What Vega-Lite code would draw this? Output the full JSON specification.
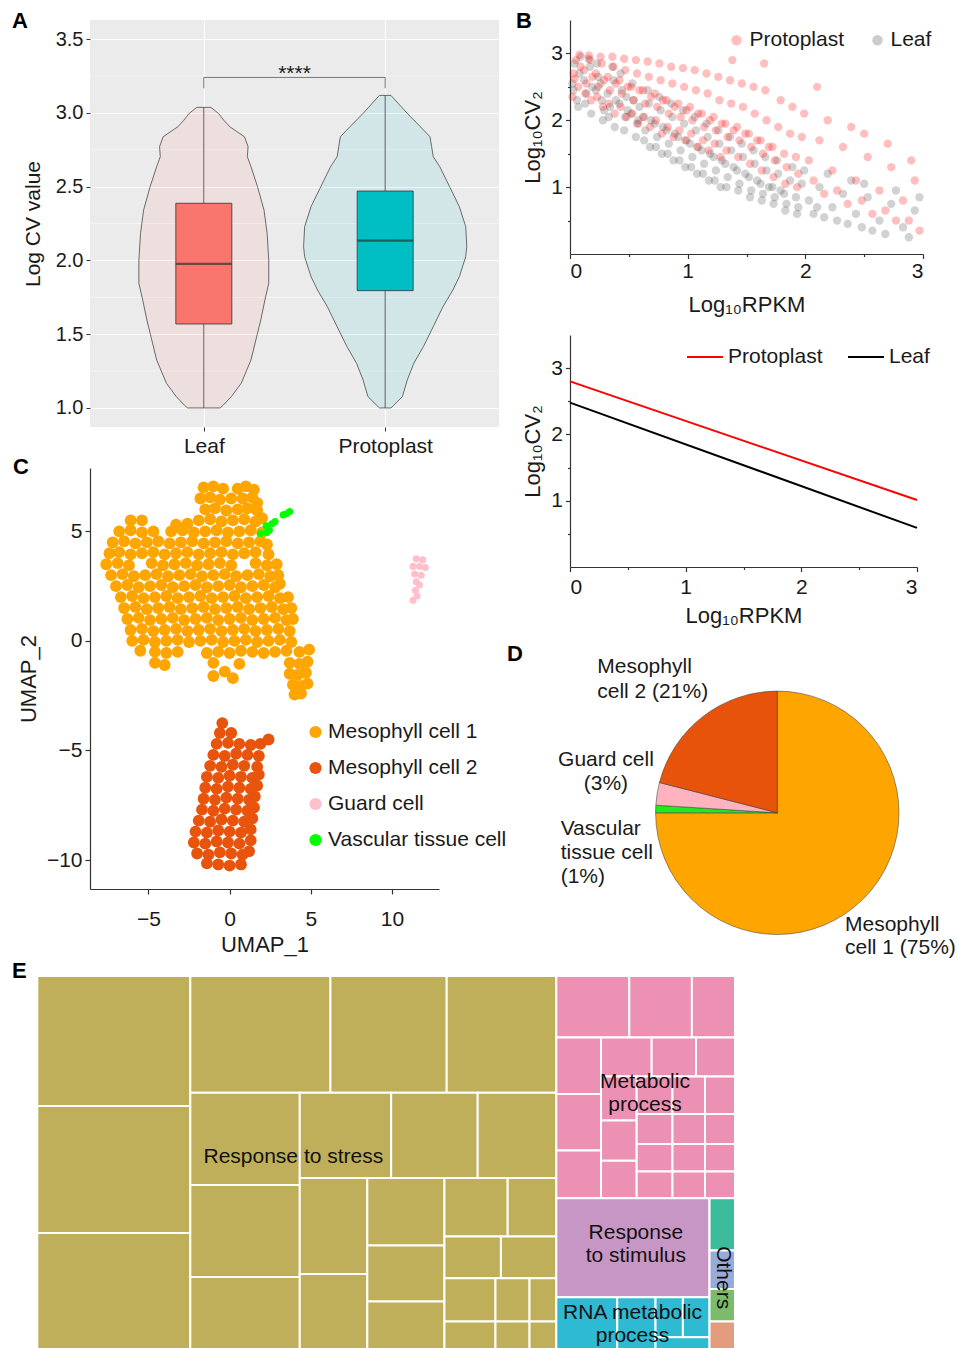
{
"$schema":"https://vega.github.io/schema/vega-lite/v6.json",
"background":"white",
"padding":{"left":12,"top":10,"right":0,"bottom":0},
"config":{
 "font":"Liberation Sans",
 "view":{"stroke":null},
 "title":{"fontSize":22,"fontWeight":"bold","anchor":"start","frame":"group","baseline":"alphabetic","color":"#000000"},
 "axis":{"labelFontSize":21,"titleFontSize":21,"titleFontWeight":"normal","labelColor":"#1a1a1a","titleColor":"#1a1a1a","grid":false,"domainColor":"#333333","tickColor":"#333333","labelOverlap":false},
 "legend":{"labelFontSize":21,"labelColor":"#1a1a1a","padding":0,"labelLimit":300},
 "text":{"font":"Liberation Sans"}
},
"datasets":{
 "violinA":[
  {"grp":"Leaf","y":3.037,"lo":0.961,"hi":1.039},{"grp":"Leaf","y":2.996,"lo":0.919,"hi":1.081},{"grp":"Leaf","y":2.95,"lo":0.89,"hi":1.11},{"grp":"Leaf","y":2.906,"lo":0.857,"hi":1.143},{"grp":"Leaf","y":2.838,"lo":0.776,"hi":1.224},{"grp":"Leaf","y":2.771,"lo":0.756,"hi":1.244},{"grp":"Leaf","y":2.703,"lo":0.76,"hi":1.24},{"grp":"Leaf","y":2.635,"lo":0.74,"hi":1.26},{"grp":"Leaf","y":2.5,"lo":0.704,"hi":1.296},{"grp":"Leaf","y":2.341,"lo":0.668,"hi":1.332},{"grp":"Leaf","y":2.183,"lo":0.651,"hi":1.349},{"grp":"Leaf","y":2.003,"lo":0.642,"hi":1.358},{"grp":"Leaf","y":1.845,"lo":0.642,"hi":1.358},{"grp":"Leaf","y":1.732,"lo":0.663,"hi":1.337},{"grp":"Leaf","y":1.596,"lo":0.686,"hi":1.314},{"grp":"Leaf","y":1.506,"lo":0.704,"hi":1.296},{"grp":"Leaf","y":1.325,"lo":0.74,"hi":1.26},{"grp":"Leaf","y":1.167,"lo":0.794,"hi":1.206},{"grp":"Leaf","y":1.077,"lo":0.848,"hi":1.152},{"grp":"Leaf","y":1.02,"lo":0.892,"hi":1.108},{"grp":"Leaf","y":1.0,"lo":0.91,"hi":1.09},
  {"grp":"Protoplast","y":3.118,"lo":1.968,"hi":2.032},{"grp":"Protoplast","y":2.996,"lo":1.878,"hi":2.122},{"grp":"Protoplast","y":2.906,"lo":1.806,"hi":2.194},{"grp":"Protoplast","y":2.838,"lo":1.753,"hi":2.247},{"grp":"Protoplast","y":2.771,"lo":1.744,"hi":2.256},{"grp":"Protoplast","y":2.703,"lo":1.735,"hi":2.265},{"grp":"Protoplast","y":2.635,"lo":1.699,"hi":2.301},{"grp":"Protoplast","y":2.5,"lo":1.645,"hi":2.355},{"grp":"Protoplast","y":2.364,"lo":1.591,"hi":2.409},{"grp":"Protoplast","y":2.229,"lo":1.556,"hi":2.444},{"grp":"Protoplast","y":2.093,"lo":1.55,"hi":2.45},{"grp":"Protoplast","y":2.025,"lo":1.556,"hi":2.444},{"grp":"Protoplast","y":1.89,"lo":1.591,"hi":2.409},{"grp":"Protoplast","y":1.799,"lo":1.627,"hi":2.373},{"grp":"Protoplast","y":1.687,"lo":1.681,"hi":2.319},{"grp":"Protoplast","y":1.551,"lo":1.735,"hi":2.265},{"grp":"Protoplast","y":1.416,"lo":1.789,"hi":2.211},{"grp":"Protoplast","y":1.303,"lo":1.842,"hi":2.158},{"grp":"Protoplast","y":1.19,"lo":1.878,"hi":2.122},{"grp":"Protoplast","y":1.077,"lo":1.905,"hi":2.095},{"grp":"Protoplast","y":1.0,"lo":1.968,"hi":2.032}
 ],
 "boxA":[
  {"grp":"Leaf","pos":1,"lo":1.0,"hi":3.037,"q1":1.569,"q3":2.387,"med":1.976},
  {"grp":"Protoplast","pos":2,"lo":1.0,"hi":3.118,"q1":1.795,"q3":2.47,"med":2.134}
 ],
 "bLeaf":[
  {"x":0.02,"y":2.55},{"x":0.04,"y":2.85},{"x":0.06,"y":2.3},{"x":0.08,"y":2.7},{"x":0.03,"y":2.45},{"x":0.09,"y":2.95},{"x":0.07,"y":2.2},
  {"x":0.12,"y":2.6},{"x":0.14,"y":2.4},{"x":0.17,"y":2.8},{"x":0.13,"y":2.25},{"x":0.19,"y":2.5},{"x":0.16,"y":2.92},{"x":0.18,"y":2.1},
  {"x":0.22,"y":2.45},{"x":0.24,"y":2.65},{"x":0.27,"y":2.3},{"x":0.23,"y":2.85},{"x":0.29,"y":2.15},{"x":0.26,"y":2.55},{"x":0.28,"y":2.0},
  {"x":0.32,"y":2.4},{"x":0.34,"y":2.2},{"x":0.37,"y":2.6},{"x":0.33,"y":2.05},{"x":0.39,"y":2.3},{"x":0.36,"y":2.8},{"x":0.38,"y":1.9},
  {"x":0.42,"y":2.25},{"x":0.44,"y":2.45},{"x":0.47,"y":2.05},{"x":0.43,"y":2.7},{"x":0.49,"y":2.15},{"x":0.46,"y":1.85},{"x":0.48,"y":2.35},
  {"x":0.52,"y":2.1},{"x":0.54,"y":2.3},{"x":0.57,"y":1.95},{"x":0.53,"y":2.55},{"x":0.59,"y":2.2},{"x":0.56,"y":1.75},{"x":0.58,"y":2.0},
  {"x":0.62,"y":2.05},{"x":0.64,"y":1.85},{"x":0.67,"y":2.25},{"x":0.63,"y":1.7},{"x":0.69,"y":2.0},{"x":0.66,"y":2.45},{"x":0.68,"y":1.6},
  {"x":0.72,"y":1.95},{"x":0.74,"y":1.75},{"x":0.77,"y":2.15},{"x":0.73,"y":1.6},{"x":0.79,"y":1.9},{"x":0.76,"y":2.35},{"x":0.78,"y":1.5},
  {"x":0.82,"y":1.85},{"x":0.84,"y":1.65},{"x":0.87,"y":2.05},{"x":0.83,"y":1.5},{"x":0.89,"y":1.8},{"x":0.86,"y":2.25},{"x":0.88,"y":1.4},
  {"x":0.92,"y":1.75},{"x":0.94,"y":1.55},{"x":0.97,"y":1.95},{"x":0.93,"y":1.4},{"x":0.99,"y":1.7},{"x":0.96,"y":2.15},{"x":0.98,"y":1.3},
  {"x":1.02,"y":1.65},{"x":1.04,"y":1.45},{"x":1.07,"y":1.85},{"x":1.03,"y":1.3},{"x":1.09,"y":1.6},{"x":1.06,"y":2.05},{"x":1.08,"y":1.2},
  {"x":1.12,"y":1.55},{"x":1.14,"y":1.35},{"x":1.17,"y":1.75},{"x":1.13,"y":1.2},{"x":1.19,"y":1.5},{"x":1.16,"y":1.95},{"x":1.18,"y":1.1},
  {"x":1.22,"y":1.45},{"x":1.24,"y":1.25},{"x":1.27,"y":1.65},{"x":1.23,"y":1.1},{"x":1.29,"y":1.4},{"x":1.26,"y":1.85},{"x":1.28,"y":1.0},
  {"x":1.32,"y":1.35},{"x":1.34,"y":1.15},{"x":1.37,"y":1.55},{"x":1.33,"y":1.0},{"x":1.39,"y":1.3},{"x":1.36,"y":1.75},
  {"x":1.42,"y":1.25},{"x":1.44,"y":1.05},{"x":1.47,"y":1.45},{"x":1.43,"y":0.95},{"x":1.49,"y":1.2},{"x":1.46,"y":1.65},
  {"x":1.52,"y":1.15},{"x":1.54,"y":0.95},{"x":1.57,"y":1.35},{"x":1.53,"y":0.85},{"x":1.59,"y":1.1},{"x":1.56,"y":1.55},
  {"x":1.62,"y":1.05},{"x":1.64,"y":0.9},{"x":1.67,"y":1.25},{"x":1.63,"y":0.8},{"x":1.69,"y":1.0},{"x":1.66,"y":1.45},
  {"x":1.72,"y":1.0},{"x":1.74,"y":0.85},{"x":1.77,"y":1.2},{"x":1.73,"y":0.75},{"x":1.79,"y":0.95},{"x":1.76,"y":1.4},
  {"x":1.82,"y":0.9},{"x":1.84,"y":0.75},{"x":1.87,"y":1.1},{"x":1.83,"y":0.65},{"x":1.89,"y":1.3},
  {"x":1.92,"y":0.85},{"x":1.94,"y":0.7},{"x":1.97,"y":1.05},{"x":1.93,"y":0.6},{"x":1.99,"y":1.25},
  {"x":2.03,"y":0.8},{"x":2.07,"y":0.6},{"x":2.12,"y":1.0},{"x":2.16,"y":0.55},{"x":2.19,"y":1.2},{"x":2.1,"y":0.7},
  {"x":2.23,"y":0.7},{"x":2.27,"y":0.5},{"x":2.32,"y":0.9},{"x":2.36,"y":0.45},{"x":2.39,"y":1.1},
  {"x":2.43,"y":0.6},{"x":2.48,"y":0.4},{"x":2.53,"y":0.85},{"x":2.57,"y":0.35},{"x":2.5,"y":1.05},
  {"x":2.63,"y":0.5},{"x":2.68,"y":0.3},{"x":2.73,"y":0.75},{"x":2.77,"y":0.95},
  {"x":2.83,"y":0.4},{"x":2.88,"y":0.25},{"x":2.93,"y":0.65},{"x":2.97,"y":0.85}
 ],
 "bProt":[
  {"x":0.03,"y":2.7},{"x":0.05,"y":2.9},{"x":0.07,"y":2.5},{"x":0.09,"y":2.8},{"x":0.02,"y":2.35},{"x":0.08,"y":2.98},{"x":0.04,"y":2.62},
  {"x":0.12,"y":2.75},{"x":0.14,"y":2.55},{"x":0.17,"y":2.9},{"x":0.13,"y":2.4},{"x":0.19,"y":2.65},{"x":0.16,"y":2.97},{"x":0.18,"y":2.3},
  {"x":0.22,"y":2.7},{"x":0.24,"y":2.5},{"x":0.27,"y":2.85},{"x":0.23,"y":2.35},{"x":0.29,"y":2.6},{"x":0.26,"y":2.95},{"x":0.28,"y":2.2},
  {"x":0.32,"y":2.65},{"x":0.34,"y":2.45},{"x":0.37,"y":2.8},{"x":0.33,"y":2.25},{"x":0.39,"y":2.55},{"x":0.36,"y":2.95},{"x":0.38,"y":2.1},
  {"x":0.42,"y":2.6},{"x":0.44,"y":2.4},{"x":0.47,"y":2.75},{"x":0.43,"y":2.2},{"x":0.49,"y":2.5},{"x":0.46,"y":2.92},{"x":0.48,"y":2.05},
  {"x":0.52,"y":2.5},{"x":0.54,"y":2.3},{"x":0.57,"y":2.7},{"x":0.53,"y":2.1},{"x":0.59,"y":2.45},{"x":0.56,"y":2.9},{"x":0.58,"y":1.95},
  {"x":0.62,"y":2.45},{"x":0.64,"y":2.25},{"x":0.67,"y":2.65},{"x":0.63,"y":2.05},{"x":0.69,"y":2.35},{"x":0.66,"y":2.88},{"x":0.68,"y":1.9},
  {"x":0.72,"y":2.4},{"x":0.74,"y":2.2},{"x":0.77,"y":2.6},{"x":0.73,"y":2.0},{"x":0.79,"y":2.3},{"x":0.76,"y":2.85},{"x":0.78,"y":1.8},
  {"x":0.82,"y":2.3},{"x":0.84,"y":2.1},{"x":0.87,"y":2.55},{"x":0.83,"y":1.9},{"x":0.89,"y":2.2},{"x":0.86,"y":2.8},{"x":0.88,"y":1.75},
  {"x":0.92,"y":2.25},{"x":0.94,"y":2.05},{"x":0.97,"y":2.5},{"x":0.93,"y":1.85},{"x":0.99,"y":2.15},{"x":0.96,"y":2.78},{"x":0.98,"y":1.7},
  {"x":1.02,"y":2.2},{"x":1.04,"y":2.0},{"x":1.07,"y":2.45},{"x":1.03,"y":1.8},{"x":1.09,"y":2.1},{"x":1.06,"y":2.75},{"x":1.08,"y":1.6},
  {"x":1.12,"y":2.1},{"x":1.14,"y":1.9},{"x":1.17,"y":2.4},{"x":1.13,"y":1.7},{"x":1.19,"y":2.0},{"x":1.16,"y":2.7},{"x":1.18,"y":1.55},
  {"x":1.22,"y":2.05},{"x":1.24,"y":1.85},{"x":1.27,"y":2.3},{"x":1.23,"y":1.65},{"x":1.29,"y":1.95},{"x":1.26,"y":2.65},{"x":1.28,"y":1.45},
  {"x":1.32,"y":1.95},{"x":1.34,"y":1.75},{"x":1.37,"y":2.25},{"x":1.33,"y":1.55},{"x":1.39,"y":1.85},{"x":1.36,"y":2.6},{"x":1.38,"y":2.9},
  {"x":1.42,"y":1.9},{"x":1.44,"y":1.7},{"x":1.47,"y":2.2},{"x":1.43,"y":1.45},{"x":1.49,"y":1.8},{"x":1.46,"y":2.55},
  {"x":1.52,"y":1.8},{"x":1.54,"y":1.6},{"x":1.57,"y":2.1},{"x":1.53,"y":1.35},{"x":1.59,"y":1.7},{"x":1.56,"y":2.5},
  {"x":1.62,"y":1.7},{"x":1.64,"y":1.5},{"x":1.67,"y":2.0},{"x":1.63,"y":1.25},{"x":1.69,"y":1.6},{"x":1.66,"y":2.45},{"x":1.65,"y":2.85},
  {"x":1.72,"y":1.6},{"x":1.74,"y":1.4},{"x":1.77,"y":1.9},{"x":1.73,"y":1.15},{"x":1.79,"y":2.3},
  {"x":1.82,"y":1.5},{"x":1.84,"y":1.3},{"x":1.87,"y":1.8},{"x":1.83,"y":1.05},{"x":1.89,"y":2.2},
  {"x":1.92,"y":1.45},{"x":1.94,"y":1.2},{"x":1.97,"y":1.75},{"x":1.93,"y":1.0},{"x":1.99,"y":2.1},
  {"x":2.03,"y":1.4},{"x":2.07,"y":1.1},{"x":2.12,"y":1.7},{"x":2.16,"y":0.9},{"x":2.19,"y":2.0},{"x":2.1,"y":2.5},
  {"x":2.23,"y":1.25},{"x":2.27,"y":0.95},{"x":2.32,"y":1.6},{"x":2.36,"y":0.75},{"x":2.39,"y":1.9},
  {"x":2.43,"y":1.1},{"x":2.48,"y":0.8},{"x":2.53,"y":1.45},{"x":2.57,"y":0.6},{"x":2.5,"y":1.8},
  {"x":2.63,"y":0.95},{"x":2.68,"y":0.65},{"x":2.73,"y":1.3},{"x":2.77,"y":0.5},{"x":2.7,"y":1.65},
  {"x":2.83,"y":0.8},{"x":2.88,"y":0.5},{"x":2.93,"y":1.1},{"x":2.97,"y":0.35},{"x":2.9,"y":1.4}
 ],
 "bLines":[
  {"s":"Protoplast","x":0,"y":2.8},{"s":"Protoplast","x":3,"y":1.01},
  {"s":"Leaf","x":0,"y":2.48},{"s":"Leaf","x":3,"y":0.59}
 ],
 "m1":[
  {"x":-1.6,"y":7.0},{"x":-1.0,"y":7.05},{"x":-0.4,"y":6.95},{"x":0.5,"y":6.95},{"x":1.0,"y":7.05},{"x":1.5,"y":6.9},
  {"x":-1.8,"y":6.5},{"x":-1.2,"y":6.55},{"x":-0.6,"y":6.45},{"x":0.1,"y":6.5},{"x":0.8,"y":6.5},{"x":1.4,"y":6.55},{"x":1.7,"y":6.3},
  {"x":-1.5,"y":6.0},{"x":-0.9,"y":6.05},{"x":-0.2,"y":5.95},{"x":0.5,"y":6.0},{"x":1.1,"y":6.05},{"x":1.7,"y":5.95},
  {"x":-6.1,"y":5.5},{"x":-5.4,"y":5.5},{"x":-3.3,"y":5.3},{"x":-2.6,"y":5.35},{"x":-1.9,"y":5.5},{"x":-1.2,"y":5.55},{"x":-0.5,"y":5.45},{"x":0.2,"y":5.5},{"x":0.9,"y":5.55},{"x":1.6,"y":5.45},{"x":2.0,"y":5.6},
  {"x":-6.8,"y":5.0},{"x":-6.1,"y":5.05},{"x":-5.4,"y":4.95},{"x":-4.7,"y":5.0},{"x":-3.6,"y":5.0},{"x":-2.9,"y":5.05},{"x":-2.2,"y":4.95},{"x":-1.5,"y":5.0},{"x":-0.8,"y":5.05},{"x":-0.1,"y":4.95},{"x":0.6,"y":5.0},{"x":1.3,"y":5.05},{"x":2.0,"y":4.95},
  {"x":-7.2,"y":4.5},{"x":-6.5,"y":4.55},{"x":-5.8,"y":4.45},{"x":-5.1,"y":4.5},{"x":-4.4,"y":4.55},{"x":-3.7,"y":4.45},{"x":-3.0,"y":4.5},{"x":-2.3,"y":4.55},{"x":-1.6,"y":4.45},{"x":-0.9,"y":4.5},{"x":-0.2,"y":4.55},{"x":0.5,"y":4.45},{"x":1.2,"y":4.5},{"x":1.9,"y":4.55},{"x":2.3,"y":4.4},
  {"x":-7.4,"y":4.0},{"x":-6.8,"y":4.05},{"x":-6.1,"y":3.95},{"x":-5.4,"y":4.0},{"x":-4.7,"y":4.05},{"x":-4.0,"y":3.95},{"x":-3.3,"y":4.0},{"x":-2.6,"y":4.05},{"x":-1.9,"y":3.95},{"x":-1.2,"y":4.0},{"x":-0.5,"y":4.05},{"x":0.2,"y":3.95},{"x":0.9,"y":4.0},{"x":1.6,"y":4.05},{"x":2.4,"y":3.95},
  {"x":-7.6,"y":3.5},{"x":-6.9,"y":3.55},{"x":-6.2,"y":3.45},{"x":-4.8,"y":3.55},{"x":-4.1,"y":3.45},{"x":-3.4,"y":3.5},{"x":-2.7,"y":3.55},{"x":-2.0,"y":3.45},{"x":-1.3,"y":3.5},{"x":-0.6,"y":3.55},{"x":0.1,"y":3.45},{"x":1.6,"y":3.55},{"x":2.3,"y":3.45},{"x":2.9,"y":3.5},
  {"x":-7.3,"y":3.0},{"x":-6.6,"y":3.05},{"x":-5.9,"y":2.95},{"x":-5.2,"y":3.0},{"x":-4.5,"y":3.05},{"x":-3.8,"y":2.95},{"x":-3.1,"y":3.0},{"x":-2.4,"y":3.05},{"x":-1.7,"y":2.95},{"x":-1.0,"y":3.0},{"x":-0.3,"y":3.05},{"x":0.4,"y":2.95},{"x":1.1,"y":3.0},{"x":1.8,"y":3.05},{"x":2.5,"y":2.95},{"x":3.0,"y":3.0},
  {"x":-7.0,"y":2.5},{"x":-6.3,"y":2.55},{"x":-5.6,"y":2.45},{"x":-4.9,"y":2.5},{"x":-4.2,"y":2.55},{"x":-3.5,"y":2.45},{"x":-2.8,"y":2.5},{"x":-2.1,"y":2.55},{"x":-1.4,"y":2.45},{"x":-0.7,"y":2.5},{"x":0.0,"y":2.55},{"x":0.7,"y":2.45},{"x":1.4,"y":2.5},{"x":2.1,"y":2.55},{"x":2.8,"y":2.45},{"x":3.1,"y":2.6},
  {"x":-6.7,"y":2.0},{"x":-6.0,"y":2.05},{"x":-5.3,"y":1.95},{"x":-4.6,"y":2.0},{"x":-3.9,"y":2.05},{"x":-3.2,"y":1.95},{"x":-2.5,"y":2.0},{"x":-1.8,"y":2.05},{"x":-1.1,"y":1.95},{"x":-0.4,"y":2.0},{"x":0.3,"y":2.05},{"x":1.0,"y":1.95},{"x":1.7,"y":2.0},{"x":2.4,"y":2.05},{"x":3.1,"y":1.95},{"x":3.6,"y":2.0},
  {"x":-6.5,"y":1.5},{"x":-5.8,"y":1.55},{"x":-5.1,"y":1.45},{"x":-4.4,"y":1.5},{"x":-3.7,"y":1.55},{"x":-3.0,"y":1.45},{"x":-2.3,"y":1.5},{"x":-1.6,"y":1.55},{"x":-0.9,"y":1.45},{"x":-0.2,"y":1.5},{"x":0.5,"y":1.55},{"x":1.2,"y":1.45},{"x":1.9,"y":1.5},{"x":2.6,"y":1.55},{"x":3.3,"y":1.45},{"x":3.8,"y":1.5},
  {"x":-6.3,"y":1.0},{"x":-5.6,"y":1.05},{"x":-4.9,"y":0.95},{"x":-4.2,"y":1.0},{"x":-3.5,"y":1.05},{"x":-2.8,"y":0.95},{"x":-2.1,"y":1.0},{"x":-1.4,"y":1.05},{"x":-0.7,"y":0.95},{"x":0.0,"y":1.0},{"x":0.7,"y":1.05},{"x":1.4,"y":0.95},{"x":2.1,"y":1.0},{"x":2.8,"y":1.05},{"x":3.5,"y":0.95},{"x":3.9,"y":1.0},
  {"x":-6.1,"y":0.5},{"x":-5.4,"y":0.55},{"x":-4.7,"y":0.45},{"x":-4.0,"y":0.5},{"x":-3.3,"y":0.55},{"x":-2.6,"y":0.45},{"x":-1.9,"y":0.5},{"x":-1.2,"y":0.55},{"x":-0.5,"y":0.45},{"x":0.2,"y":0.5},{"x":0.9,"y":0.55},{"x":1.6,"y":0.45},{"x":2.3,"y":0.5},{"x":3.0,"y":0.55},{"x":3.7,"y":0.45},
  {"x":-6.0,"y":0.0},{"x":-5.3,"y":0.05},{"x":-4.6,"y":-0.05},{"x":-3.9,"y":0.0},{"x":-3.2,"y":0.05},{"x":-2.5,"y":-0.05},{"x":-1.8,"y":0.0},{"x":-1.1,"y":0.05},{"x":-0.4,"y":-0.05},{"x":0.3,"y":0.0},{"x":1.0,"y":0.05},{"x":1.7,"y":-0.05},{"x":2.4,"y":0.0},{"x":3.1,"y":0.05},{"x":3.8,"y":-0.05},
  {"x":-5.5,"y":-0.45},{"x":-4.6,"y":-0.5},{"x":-3.9,"y":-0.55},{"x":-3.2,"y":-0.5},{"x":-1.4,"y":-0.55},{"x":-0.7,"y":-0.5},{"x":0.0,"y":-0.55},{"x":0.7,"y":-0.45},{"x":1.4,"y":-0.5},{"x":2.1,"y":-0.55},{"x":2.8,"y":-0.5},{"x":3.5,"y":-0.45},{"x":4.3,"y":-0.5},{"x":4.9,"y":-0.4},
  {"x":-4.6,"y":-1.0},{"x":-4.0,"y":-1.1},{"x":-1.0,"y":-1.0},{"x":0.6,"y":-1.05},{"x":3.7,"y":-1.0},{"x":4.3,"y":-1.05},{"x":4.8,"y":-0.95},
  {"x":-1.0,"y":-1.6},{"x":-0.3,"y":-1.4},{"x":0.2,"y":-1.7},{"x":3.7,"y":-1.5},{"x":4.2,"y":-1.55},{"x":4.7,"y":-1.45},
  {"x":3.9,"y":-2.0},{"x":4.4,"y":-2.05},{"x":4.8,"y":-1.95},{"x":4.0,"y":-2.45},{"x":4.4,"y":-2.4}
 ],
 "m2":[
  {"x":-0.45,"y":-3.75},{"x":-0.6,"y":-4.2},{"x":0.1,"y":-4.2},
  {"x":-0.8,"y":-4.7},{"x":-0.1,"y":-4.65},{"x":0.6,"y":-4.7},{"x":1.3,"y":-4.75},{"x":1.9,"y":-4.7},{"x":2.4,"y":-4.5},
  {"x":-1.0,"y":-5.2},{"x":-0.3,"y":-5.25},{"x":0.4,"y":-5.15},{"x":1.1,"y":-5.2},{"x":1.8,"y":-5.25},
  {"x":-1.2,"y":-5.7},{"x":-0.5,"y":-5.75},{"x":0.2,"y":-5.65},{"x":0.9,"y":-5.7},{"x":1.7,"y":-5.75},
  {"x":-1.4,"y":-6.2},{"x":-0.7,"y":-6.25},{"x":0.0,"y":-6.15},{"x":0.7,"y":-6.2},{"x":1.4,"y":-6.25},{"x":1.8,"y":-6.1},
  {"x":-1.5,"y":-6.7},{"x":-0.8,"y":-6.75},{"x":-0.1,"y":-6.65},{"x":0.6,"y":-6.7},{"x":1.3,"y":-6.75},{"x":1.7,"y":-6.6},
  {"x":-1.6,"y":-7.2},{"x":-0.9,"y":-7.25},{"x":-0.2,"y":-7.15},{"x":0.5,"y":-7.2},{"x":1.2,"y":-7.25},{"x":1.55,"y":-7.1},
  {"x":-1.7,"y":-7.7},{"x":-1.0,"y":-7.75},{"x":-0.3,"y":-7.65},{"x":0.4,"y":-7.7},{"x":1.1,"y":-7.75},{"x":1.5,"y":-7.6},
  {"x":-1.9,"y":-8.2},{"x":-1.2,"y":-8.25},{"x":-0.5,"y":-8.15},{"x":0.2,"y":-8.2},{"x":0.9,"y":-8.25},{"x":1.4,"y":-8.1},
  {"x":-2.1,"y":-8.7},{"x":-1.4,"y":-8.75},{"x":-0.7,"y":-8.65},{"x":0.0,"y":-8.7},{"x":0.7,"y":-8.75},{"x":1.3,"y":-8.6},
  {"x":-2.2,"y":-9.2},{"x":-1.5,"y":-9.25},{"x":-0.8,"y":-9.15},{"x":-0.1,"y":-9.2},{"x":0.6,"y":-9.25},{"x":1.3,"y":-9.1},
  {"x":-2.0,"y":-9.7},{"x":-1.3,"y":-9.75},{"x":-0.6,"y":-9.65},{"x":0.1,"y":-9.7},{"x":0.8,"y":-9.75},{"x":1.2,"y":-9.6},
  {"x":-1.4,"y":-10.15},{"x":-0.7,"y":-10.2},{"x":0.0,"y":-10.25},{"x":0.7,"y":-10.2}
 ],
 "gc":[
  {"x":11.5,"y":3.75},{"x":11.9,"y":3.7},{"x":11.3,"y":3.4},{"x":11.7,"y":3.4},{"x":12.05,"y":3.35},{"x":11.4,"y":3.05},{"x":11.8,"y":3.0},{"x":11.5,"y":2.7},{"x":11.7,"y":2.55},{"x":11.45,"y":2.3},{"x":11.55,"y":2.05},{"x":11.3,"y":1.85}
 ],
 "vt":[
  {"x":1.9,"y":4.9},{"x":2.3,"y":4.95},{"x":2.25,"y":5.25},{"x":2.6,"y":5.35},{"x":2.8,"y":5.45},{"x":2.45,"y":5.05},{"x":3.3,"y":5.75},{"x":3.5,"y":5.8},{"x":3.7,"y":5.9}
 ],
 "pie":[
  {"cell":"Mesophyll cell 1","pct":75,"ord":1,"lab":"Mesophyll\ncell 1 (75%)"},
  {"cell":"Vascular tissue cell","pct":1,"ord":2,"lab":"Vascular\ntissue cell\n(1%)"},
  {"cell":"Guard cell","pct":3,"ord":3,"lab":"Guard cell\n(3%)"},
  {"cell":"Mesophyll cell 2","pct":21,"ord":4,"lab":"Mesophyll\ncell 2 (21%)"}
 ],
 "tiles":[
  {"c":"st","x":0,"x2":21.93,"y":0,"y2":34.83},{"c":"st","x":0,"x2":21.93,"y":34.83,"y2":68.9},{"c":"st","x":0,"x2":21.93,"y":68.9,"y2":100},
  {"c":"st","x":21.93,"x2":42.02,"y":0,"y2":31.29},{"c":"st","x":42.02,"x2":58.68,"y":0,"y2":31.29},{"c":"st","x":58.68,"x2":74.39,"y":0,"y2":31.29},
  {"c":"st","x":21.93,"x2":37.62,"y":31.29,"y2":56.01},{"c":"st","x":21.93,"x2":37.62,"y":56.01,"y2":80.7},{"c":"st","x":21.93,"x2":37.62,"y":80.7,"y2":100},
  {"c":"st","x":37.62,"x2":50.72,"y":31.29,"y2":54.16},{"c":"st","x":50.72,"x2":63.12,"y":31.29,"y2":54.16},{"c":"st","x":63.12,"x2":74.39,"y":31.29,"y2":54.16},
  {"c":"st","x":37.62,"x2":47.3,"y":54.16,"y2":79.87},{"c":"st","x":37.62,"x2":47.3,"y":79.87,"y2":100},
  {"c":"st","x":47.3,"x2":58.36,"y":54.16,"y2":72.23},{"c":"st","x":47.3,"x2":58.36,"y":72.23,"y2":87.24},{"c":"st","x":47.3,"x2":58.36,"y":87.24,"y2":100},
  {"c":"st","x":58.36,"x2":67.42,"y":54.16,"y2":69.84},{"c":"st","x":67.42,"x2":74.39,"y":54.16,"y2":69.84},
  {"c":"st","x":58.36,"x2":66.45,"y":69.84,"y2":81.02},{"c":"st","x":66.45,"x2":74.39,"y":69.84,"y2":81.02},
  {"c":"st","x":58.36,"x2":65.67,"y":81.02,"y2":92.63},{"c":"st","x":65.67,"x2":70.55,"y":81.02,"y2":92.63},{"c":"st","x":70.55,"x2":74.39,"y":81.02,"y2":92.63},
  {"c":"st","x":58.36,"x2":65.67,"y":92.63,"y2":100},{"c":"st","x":65.67,"x2":70.55,"y":92.63,"y2":100},{"c":"st","x":70.55,"x2":74.39,"y":92.63,"y2":100},
  {"c":"me","x":74.39,"x2":84.85,"y":0,"y2":16.49},{"c":"me","x":84.85,"x2":93.82,"y":0,"y2":16.49},{"c":"me","x":93.82,"x2":100,"y":0,"y2":16.49},
  {"c":"me","x":74.39,"x2":80.8,"y":16.49,"y2":31.61},{"c":"me","x":74.39,"x2":80.8,"y":31.61,"y2":46.78},{"c":"me","x":74.39,"x2":80.8,"y":46.78,"y2":59.57},
  {"c":"me","x":80.8,"x2":88.06,"y":16.49,"y2":26.94},{"c":"me","x":88.06,"x2":94.41,"y":16.49,"y2":26.94},{"c":"me","x":94.41,"x2":100,"y":16.49,"y2":26.94},
  {"c":"me","x":80.8,"x2":85.91,"y":26.94,"y2":38.74},{"c":"me","x":80.8,"x2":85.91,"y":38.74,"y2":49.52},{"c":"me","x":80.8,"x2":85.91,"y":49.52,"y2":59.57},
  {"c":"me","x":85.91,"x2":91.04,"y":26.94,"y2":36.97},{"c":"me","x":91.04,"x2":95.7,"y":26.94,"y2":36.97},{"c":"me","x":95.7,"x2":100,"y":26.94,"y2":36.97},
  {"c":"me","x":85.91,"x2":91.04,"y":36.97,"y2":45.01},{"c":"me","x":91.04,"x2":95.7,"y":36.97,"y2":45.01},{"c":"me","x":95.7,"x2":100,"y":36.97,"y2":45.01},
  {"c":"me","x":85.91,"x2":91.04,"y":45.01,"y2":52.41},{"c":"me","x":91.04,"x2":95.7,"y":45.01,"y2":52.41},{"c":"me","x":95.7,"x2":100,"y":45.01,"y2":52.41},
  {"c":"me","x":85.91,"x2":91.04,"y":52.41,"y2":59.57},{"c":"me","x":91.04,"x2":95.7,"y":52.41,"y2":59.57},{"c":"me","x":95.7,"x2":100,"y":52.41,"y2":59.57},
  {"c":"sm","x":74.39,"x2":96.35,"y":59.57,"y2":86.12},
  {"c":"rna","x":74.39,"x2":83.12,"y":86.12,"y2":100},{"c":"rna","x":83.12,"x2":88.61,"y":86.12,"y2":100},{"c":"rna","x":88.61,"x2":92.53,"y":86.12,"y2":96.84},{"c":"rna","x":92.53,"x2":96.35,"y":86.12,"y2":96.84},{"c":"rna","x":88.61,"x2":96.35,"y":96.84,"y2":100},
  {"c":"o1","x":96.35,"x2":100,"y":59.57,"y2":73.59},{"c":"o2","x":96.35,"x2":100,"y":73.59,"y2":83.89},{"c":"o3","x":96.35,"x2":100,"y":83.89,"y2":92.63},{"c":"o4","x":96.35,"x2":100,"y":92.63,"y2":100}
 ],
 "tmLabels":[
  {"t":"Response to stress","x":36.7,"y":50.05},
  {"t":"Metabolic\nprocess","x":87.1,"y":29.95},
  {"t":"Response\nto stimulus","x":85.79,"y":70.59},
  {"t":"RNA metabolic\nprocess","x":85.31,"y":92.04}
 ]
},
"concat":[
 {"hconcat":[
   {"vconcat":[
     {"width":409,"height":407,
      "view":{"fill":"#EBEBEB","stroke":null},
      "title":{"text":"A","dx":-78,"offset":-13.3},
      "layer":[
       {"data":{"values":[{"g":1.25},{"g":1.75},{"g":2.25},{"g":2.75},{"g":3.25}]},
        "mark":{"type":"rule","color":"#FFFFFF","strokeWidth":0.5},
        "encoding":{"y":{"field":"g","type":"quantitative","title":"Log CV value","scale":{"domain":[0.871,3.629],"nice":false,"zero":false},
          "axis":{"values":[1,1.5,2,2.5,3,3.5],"format":".1f","grid":true,"gridColor":"#FFFFFF","gridWidth":1.1,"domain":false,"tickSize":4,"tickWidth":1,"labelPadding":3,"labelFontSize":20,"titlePadding":12,"titleFontSize":21}}}},
       {"data":{"name":"violinA"},
        "mark":{"type":"area","orient":"horizontal","fillOpacity":0.1,"stroke":"#333333","strokeWidth":0.7},
        "encoding":{
         "y":{"field":"y","type":"quantitative","title":"Log CV value","scale":{"domain":[0.871,3.629],"nice":false,"zero":false}},
         "x":{"field":"lo","type":"quantitative","title":null,"scale":{"domain":[0.4,2.6],"nice":false,"zero":false},
           "axis":{"values":[1,2],"labelExpr":"datum.value === 1 ? 'Leaf' : 'Protoplast'","grid":true,"gridColor":"#FFFFFF","gridWidth":1.1,"domain":false,"tickSize":4,"tickWidth":1,"labelPadding":4,"labelFontSize":21}},
         "x2":{"field":"hi"},
         "color":{"field":"grp","type":"nominal","scale":{"domain":["Leaf","Protoplast"],"range":["#F8766D","#00BFC4"]},"legend":null}}},
       {"data":{"name":"boxA"},
        "mark":{"type":"rule","color":"#333333","strokeWidth":0.8},
        "encoding":{
         "x":{"field":"pos","type":"quantitative","title":null,"scale":{"domain":[0.4,2.6],"nice":false,"zero":false}},
         "y":{"field":"lo","type":"quantitative","title":"Log CV value","scale":{"domain":[0.871,3.629],"nice":false,"zero":false}},
         "y2":{"field":"hi"}}},
       {"data":{"name":"boxA"},
        "mark":{"type":"bar","size":56,"stroke":"#333333","strokeWidth":0.8},
        "encoding":{
         "x":{"field":"pos","type":"quantitative","title":null,"scale":{"domain":[0.4,2.6],"nice":false,"zero":false}},
         "y":{"field":"q1","type":"quantitative","title":"Log CV value","scale":{"domain":[0.871,3.629],"nice":false,"zero":false}},
         "y2":{"field":"q3"},
         "color":{"field":"grp","type":"nominal","scale":{"domain":["Leaf","Protoplast"],"range":["#F8766D","#00BFC4"]},"legend":null}}},
       {"data":{"name":"boxA"},
        "mark":{"type":"tick","orient":"horizontal","size":56,"thickness":2.2,"color":"#333333"},
        "encoding":{
         "x":{"field":"pos","type":"quantitative","title":null,"scale":{"domain":[0.4,2.6],"nice":false,"zero":false}},
         "y":{"field":"med","type":"quantitative","title":"Log CV value","scale":{"domain":[0.871,3.629],"nice":false,"zero":false}}}},
       {"data":{"values":[{"bx":1,"by":3.166,"o":1},{"bx":1,"by":3.24,"o":2},{"bx":2,"by":3.24,"o":3},{"bx":2,"by":3.166,"o":4}]},
        "mark":{"type":"line","color":"#555555","strokeWidth":0.8},
        "encoding":{
         "x":{"field":"bx","type":"quantitative","title":null,"scale":{"domain":[0.4,2.6],"nice":false,"zero":false}},
         "y":{"field":"by","type":"quantitative","title":"Log CV value","scale":{"domain":[0.871,3.629],"nice":false,"zero":false}},
         "order":{"field":"o","type":"quantitative"}}},
       {"data":{"values":[{"tx":1.5,"ty":3.22,"t":"****"}]},
        "mark":{"type":"text","fontSize":21,"align":"center","baseline":"alphabetic","color":"#1a1a1a"},
        "encoding":{
         "x":{"field":"tx","type":"quantitative","title":null,"scale":{"domain":[0.4,2.6],"nice":false,"zero":false}},
         "y":{"field":"ty","type":"quantitative","title":"Log CV value","scale":{"domain":[0.871,3.629],"nice":false,"zero":false}},
         "text":{"field":"t"}}}
      ]},
     {"width":349,"height":421,
      "title":{"text":"C","dx":-77,"offset":-11.1},
      "layer":[
       {"data":{"name":"m1"},"mark":{"type":"point","filled":true,"size":140,"opacity":1},
        "encoding":{
         "x":{"field":"x","type":"quantitative","title":"UMAP_1","scale":{"domain":[-8.6,12.9],"nice":false,"zero":false},"axis":{"values":[-5,0,5,10],"tickSize":5,"tickWidth":1.2,"domainWidth":1.2,"labelPadding":14,"titlePadding":5,"titleFontSize":22}},
         "y":{"field":"y","type":"quantitative","title":"UMAP_2","scale":{"domain":[-11.32,7.89],"nice":false,"zero":false},"axis":{"values":[-10,-5,0,5],"tickSize":5,"tickWidth":1.2,"domainWidth":1.2,"labelPadding":3,"titlePadding":6,"titleFontSize":22}},
         "color":{"datum":"Mesophyll cell 1","type":"nominal","scale":{"domain":["Mesophyll cell 1","Mesophyll cell 2","Guard cell","Vascular tissue cell"],"range":["#FFA500","#E8540C","#FFC0CB","#00FF00"]},
           "legend":{"orient":"none","legendX":215,"legendY":253.5,"title":null,"symbolType":"circle","symbolSize":150,"symbolOpacity":1,"symbolStrokeWidth":0,"labelOffset":2,"rowPadding":14,"labelFontSize":21}}}},
       {"data":{"name":"m2"},"mark":{"type":"point","filled":true,"size":140,"opacity":1},
        "encoding":{"x":{"field":"x","type":"quantitative","title":"UMAP_1"},"y":{"field":"y","type":"quantitative","title":"UMAP_2"},"color":{"datum":"Mesophyll cell 2","type":"nominal"}}},
       {"data":{"name":"gc"},"mark":{"type":"point","filled":true,"size":50,"opacity":1},
        "encoding":{"x":{"field":"x","type":"quantitative","title":"UMAP_1"},"y":{"field":"y","type":"quantitative","title":"UMAP_2"},"color":{"datum":"Guard cell","type":"nominal"}}},
       {"data":{"name":"vt"},"mark":{"type":"point","filled":true,"size":50,"opacity":1},
        "encoding":{"x":{"field":"x","type":"quantitative","title":"UMAP_1"},"y":{"field":"y","type":"quantitative","title":"UMAP_2"},"color":{"datum":"Vascular tissue cell","type":"nominal"}}}
      ]}
    ],
    "spacing":0,
    "resolve":{"scale":{"x":"independent","y":"independent","color":"independent"},"legend":{"color":"independent"}}},
   {"concat":[
     {"vconcat":[
       {"width":353,"height":234,
        "title":{"text":"B","dx":-54,"offset":-13.3},
        "layer":[
         {"data":{"name":"bLeaf"},"mark":{"type":"point","filled":true,"size":70,"opacity":0.22},
          "encoding":{
           "x":{"field":"x","type":"quantitative","title":"Log₁₀RPKM","scale":{"domain":[0,3],"nice":false,"zero":false},
             "axis":{"values":[0,0.5,1,1.5,2,2.5,3],"labelExpr":"datum.value % 1 === 0 ? format(datum.value, 'd') : ''","tickSize":{"condition":{"test":"datum.value % 1 !== 0","value":2.5},"value":4.5},"tickWidth":1.2,"domainWidth":1.2,"labelPadding":2,"titlePadding":13,"titleFontSize":22}},
           "y":{"field":"y","type":"quantitative","title":"Log₁₀CV₂","scale":{"domain":[0,3.5],"nice":false,"zero":false},
             "axis":{"values":[0.5,1,1.5,2,2.5,3],"labelExpr":"datum.value % 1 === 0 ? format(datum.value, 'd') : ''","tickSize":{"condition":{"test":"datum.value % 1 !== 0","value":2.5},"value":4.5},"tickWidth":1.2,"domainWidth":1.2,"labelPadding":3,"titlePadding":6,"titleFontSize":22}},
           "color":{"datum":"Leaf","type":"nominal","scale":{"domain":["Protoplast","Leaf"],"range":["#FF0000","#333333"]},
             "legend":{"orient":"none","legendX":156,"legendY":9.5,"direction":"horizontal","title":null,"symbolType":"circle","symbolSize":110,"symbolOpacity":1,"symbolStrokeWidth":0,"labelOffset":2.5,"columnPadding":22,"labelFontSize":21}}}},
         {"data":{"name":"bProt"},"mark":{"type":"point","filled":true,"size":70,"opacity":0.25},
          "encoding":{
           "x":{"field":"x","type":"quantitative","title":"Log₁₀RPKM"},
           "y":{"field":"y","type":"quantitative","title":"Log₁₀CV₂"},
           "color":{"datum":"Protoplast","type":"nominal"}}}
        ]},
       {"width":347,"height":232,
        "data":{"name":"bLines"},
        "mark":{"type":"line","strokeWidth":2},
        "encoding":{
         "x":{"field":"x","type":"quantitative","title":"Log₁₀RPKM","scale":{"domain":[0,3],"nice":false,"zero":false},
           "axis":{"values":[0,0.5,1,1.5,2,2.5,3],"labelExpr":"datum.value % 1 === 0 ? format(datum.value, 'd') : ''","tickSize":{"condition":{"test":"datum.value % 1 !== 0","value":2.5},"value":4.5},"tickWidth":1.2,"domainWidth":1.2,"labelPadding":4.5,"titlePadding":8,"titleFontSize":22}},
         "y":{"field":"y","type":"quantitative","title":"Log₁₀CV₂","scale":{"domain":[0,3.5],"nice":false,"zero":false},
           "axis":{"values":[0.5,1,1.5,2,2.5,3],"labelExpr":"datum.value % 1 === 0 ? format(datum.value, 'd') : ''","tickSize":{"condition":{"test":"datum.value % 1 !== 0","value":2.5},"value":4.5},"tickWidth":1.2,"domainWidth":1.2,"labelPadding":3,"titlePadding":6,"titleFontSize":22}},
         "color":{"field":"s","type":"nominal","scale":{"domain":["Protoplast","Leaf"],"range":["#FF0000","#000000"]},
           "legend":{"orient":"none","legendX":116,"legendY":3,"direction":"horizontal","title":null,"symbolType":"stroke","symbolSize":1296,"symbolStrokeWidth":2,"labelOffset":4,"columnPadding":21,"labelFontSize":21}}}}
      ],
      "spacing":19,
      "resolve":{"scale":{"x":"independent","y":"independent","color":"independent"},"legend":{"color":"independent"}}},
     {"width":385,"height":320,
      "title":{"text":"D","dx":-63,"offset":-26.8},
      "data":{"name":"pie"},
      "encoding":{
       "theta":{"field":"pct","type":"quantitative","stack":true},
       "order":{"field":"ord","type":"quantitative"},
       "x":{"datum":"pie","type":"nominal","scale":{"type":"point","padding":0.5,"align":0.53844},"axis":null},
       "y":{"datum":"pie","type":"nominal","scale":{"type":"point","padding":0.5,"align":0.5416},"axis":null}},
      "layer":[
       {"mark":{"type":"arc","outerRadius":121.7,"stroke":"#333333","strokeWidth":0.5},
        "encoding":{"color":{"field":"cell","type":"nominal","scale":{"domain":["Mesophyll cell 1","Vascular tissue cell","Guard cell","Mesophyll cell 2"],"range":["#FFA500","#1EEB1E","#FFB3C1","#E8530C"]},"legend":null}}},
       {"mark":{"type":"text","radius":150,"align":"left","baseline":"alphabetic","dx":-88.1,"dy":-21.5,"lineBreak":"\n","lineHeight":25,"fontSize":21,"color":"#1a1a1a"},
        "encoding":{"text":{"condition":{"test":"datum.cell === 'Mesophyll cell 2'","field":"lab"},"value":""}}},
       {"mark":{"type":"text","radius":150,"align":"center","baseline":"alphabetic","dx":-23.2,"dy":-23.1,"lineBreak":"\n","lineHeight":23.5,"fontSize":21,"color":"#1a1a1a"},
        "encoding":{"text":{"condition":{"test":"datum.cell === 'Guard cell'","field":"lab"},"value":""}}},
       {"mark":{"type":"text","radius":150,"align":"left","baseline":"alphabetic","dx":-66.7,"dy":26.4,"lineBreak":"\n","lineHeight":24,"fontSize":21,"color":"#1a1a1a"},
        "encoding":{"text":{"condition":{"test":"datum.cell === 'Vascular tissue cell'","field":"lab"},"value":""}}},
       {"mark":{"type":"text","radius":150,"align":"left","baseline":"alphabetic","dx":-38.4,"dy":12.3,"lineBreak":"\n","lineHeight":23.3,"fontSize":21,"color":"#1a1a1a"},
        "encoding":{"text":{"condition":{"test":"datum.cell === 'Mesophyll cell 1'","field":"lab"},"value":""}}}
      ]}
    ],
    "columns":1,
    "align":"none",
    "spacing":13.5,
    "resolve":{"scale":{"x":"independent","y":"independent","color":"independent","theta":"independent"},"legend":{"color":"independent"}}}
  ],
  "spacing":0,
  "resolve":{"scale":{"x":"independent","y":"independent","color":"independent","theta":"independent"},"legend":{"color":"independent"}}},
 {"width":645,"height":373,
  "title":{"text":"E","dx":-78,"offset":-8.3},
  "layer":[
   {"data":{"name":"tiles"},
    "mark":{"type":"rect","stroke":"#FFFFFF","strokeWidth":2},
    "encoding":{
     "x":{"field":"x","type":"quantitative","scale":{"domain":[7.553,100],"nice":false,"zero":false},"axis":null},
     "x2":{"field":"x2"},
     "y":{"field":"y","type":"quantitative","scale":{"domain":[0,100],"nice":false,"zero":false,"reverse":true},"axis":null},
     "y2":{"field":"y2"},
     "color":{"field":"c","type":"nominal","scale":{"domain":["st","me","sm","rna","o1","o2","o3","o4"],"range":["#BFAF5A","#EC91B4","#C896C5","#2EBAD3","#3BBA9C","#97AAD8","#7CBB6B","#E39C7E"]},"legend":null}}},
   {"data":{"name":"tmLabels"},
    "mark":{"type":"text","fontSize":21,"align":"center","baseline":"alphabetic","lineBreak":"\n","lineHeight":23,"color":"#111111"},
    "encoding":{
     "x":{"field":"x","type":"quantitative","scale":{"domain":[7.553,100],"nice":false,"zero":false},"axis":null},
     "y":{"field":"y","type":"quantitative","scale":{"domain":[0,100],"nice":false,"zero":false,"reverse":true},"axis":null},
     "text":{"field":"t"}}},
   {"data":{"values":[{"t":"Others","x":98.24,"y":80.89}]},
    "mark":{"type":"text","fontSize":21,"angle":90,"align":"center","baseline":"middle","color":"#111111"},
    "encoding":{
     "x":{"field":"x","type":"quantitative","scale":{"domain":[7.553,100],"nice":false,"zero":false},"axis":null},
     "y":{"field":"y","type":"quantitative","scale":{"domain":[0,100],"nice":false,"zero":false,"reverse":true},"axis":null},
     "text":{"field":"t"}}}
  ]}
],
"columns":1,
"align":"none",
"spacing":0,
"resolve":{"scale":{"x":"independent","y":"independent","color":"independent"},"legend":{"color":"independent"}}
}
